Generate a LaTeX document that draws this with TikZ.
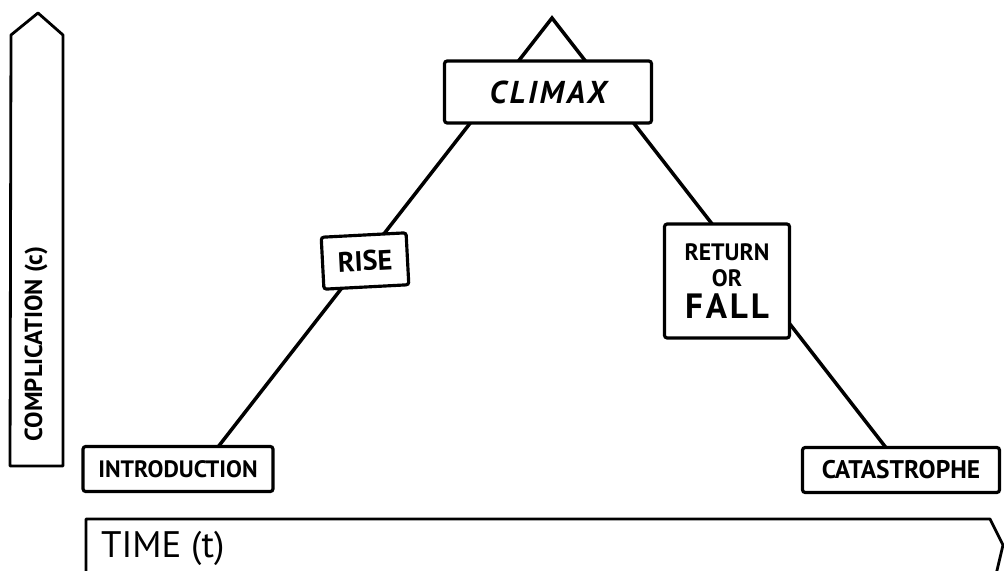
\documentclass[tikz,border=0pt]{standalone}
\usepackage{fontspec}
\setmainfont{PT Sans}
\usetikzlibrary{positioning}

\begin{document}
\begin{tikzpicture}[
    x=0.02cm, y=-0.02cm,
    box/.style={
        draw,
        fill=white,
        line width=1.8pt,
        rounded corners=1.5pt,
        align=center,
        inner sep=0pt,
        font=\bfseries
    },
    axis/.style={
        line width=1.6pt,
        line join=round
    },
    plot/.style={
        line width=2pt
    }
]
\clip (0,0) rectangle (1004,571);

% Axes
\draw [axis] (10,466) -- (11,35) -- (38,13) -- (63,35) -- (63,466) -- cycle;
\draw [axis] (86,600) -- (86,519) -- (990,519) -- (1003,545) -- (990,600);
\node (comp) [rotate=90, font=\bfseries\fontsize{14}{15}\selectfont] at (36,344) {COMPLICATION (c)};
\node (time) [anchor=west, font=\fontsize{21}{24}\selectfont] at (95,548) {TIME (t)};

% Triangle
\coordinate (peak) at (552,18);
\coordinate (lbase) at (218,447);
\coordinate (rbase) at (887,449);
\draw [plot] (lbase) -- (peak) -- (rbase);

% Stages
\node (climax) [box, minimum width=4.14cm, minimum height=1.24cm,
    font=\bfseries\itshape\fontsize{18}{20}\selectfont\addfontfeatures{LetterSpace=9}] at (548,92) {CLIMAX};
\node (rise) [box, rotate=3, minimum width=1.7cm, minimum height=1.04cm,
    font=\bfseries\fontsize{16}{18}\selectfont] at (365,261) {RISE};
\node (return) [box, minimum width=2.5cm, minimum height=2.28cm,
    font=\bfseries\fontsize{13.5}{14}\selectfont] at (727,281)
    {RETURN\\[1pt] OR\\[3pt] {\fontsize{20}{20}\selectfont\addfontfeatures{LetterSpace=8}FALL}};
\node (intro) [box, minimum width=3.8cm, minimum height=0.9cm,
    font=\bfseries\fontsize{13.5}{15}\selectfont] at (178,469) {INTRODUCTION};
\node (cata) [box, minimum width=3.94cm, minimum height=0.9cm,
    font=\bfseries\fontsize{14.5}{15}\selectfont] at (901,470) {CATASTROPHE};

\end{tikzpicture}
\end{document}
